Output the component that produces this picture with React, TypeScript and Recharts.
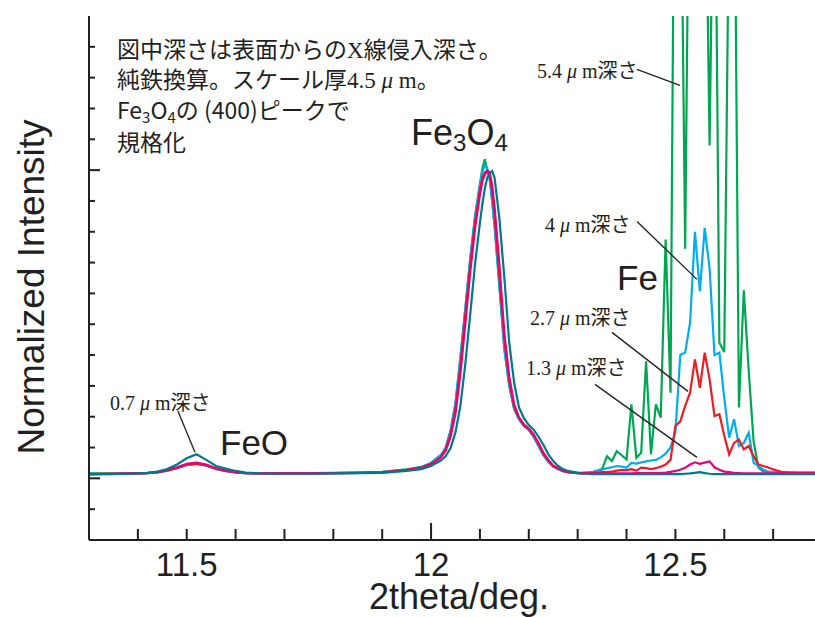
import React from 'react';
import { LineChart, Line, XAxis, YAxis, ReferenceLine } from 'recharts';

// 2theta (deg.) sample positions
const THETA = [
  11.30, 11.35, 11.40, 11.42, 11.44, 11.46, 11.48, 11.50, 11.52, 11.54, 11.56, 11.58, 11.60, 11.62, 11.65, 11.70, 11.75, 11.80, 11.85, 11.90, 11.95, 11.98,
  12.00, 12.02, 12.03, 12.04, 12.05, 12.06, 12.07, 12.08, 12.09, 12.10, 12.105, 12.11, 12.115, 12.12, 12.125, 12.13, 12.14, 12.15, 12.16, 12.17, 12.18, 12.19, 12.20, 12.21, 12.22, 12.23, 12.24, 12.25, 12.26, 12.27, 12.28, 12.30,
  12.31, 12.32, 12.33, 12.34, 12.35, 12.36, 12.37, 12.38, 12.39, 12.40, 12.41, 12.42, 12.43, 12.44, 12.45, 12.46, 12.47, 12.48, 12.49, 12.50, 12.51, 12.52, 12.53, 12.54, 12.55, 12.56, 12.57, 12.58, 12.59, 12.60, 12.61, 12.62, 12.63, 12.64, 12.65, 12.66, 12.67, 12.68, 12.69, 12.70,
  12.72, 12.75, 12.80,
];

// 0.7 um depth (teal)
const D07 = [
  0.013, 0.014, 0.016, 0.018, 0.022, 0.03, 0.045, 0.065, 0.078, 0.06, 0.04, 0.032, 0.024, 0.019, 0.016, 0.015, 0.015, 0.016, 0.017, 0.018, 0.024, 0.03,
  0.04, 0.058, 0.072, 0.098, 0.15, 0.235, 0.37, 0.53, 0.695, 0.83, 0.89, 0.94, 0.975, 0.99, 0.997, 0.975, 0.84, 0.65, 0.44, 0.31, 0.23, 0.195, 0.173, 0.158, 0.135, 0.108, 0.078, 0.056, 0.04, 0.03, 0.024, 0.018,
  0.015, 0.015, 0.014, 0.014, 0.014, 0.014, 0.014, 0.014, 0.014, 0.014, 0.014, 0.014, 0.014, 0.014, 0.014, 0.014, 0.014, 0.014, 0.014, 0.014, 0.014, 0.015, 0.016, 0.018, 0.02, 0.017, 0.015, 0.014, 0.014, 0.014, 0.014, 0.014, 0.014, 0.014, 0.014, 0.014, 0.014, 0.014, 0.014, 0.014,
  0.014, 0.014, 0.014,
];

// 1.3 um depth (magenta)
const D13 = [
  0.014, 0.015, 0.016, 0.017, 0.02, 0.027, 0.036, 0.047, 0.051, 0.045, 0.033, 0.025, 0.02, 0.017, 0.016, 0.016, 0.016, 0.017, 0.018, 0.019, 0.027, 0.034,
  0.045, 0.068, 0.09, 0.135, 0.21, 0.34, 0.5, 0.667, 0.81, 0.92, 0.965, 0.985, 0.997, 0.993, 0.95, 0.88, 0.69, 0.47, 0.33, 0.24, 0.197, 0.175, 0.162, 0.143, 0.115, 0.083, 0.06, 0.041, 0.032, 0.025, 0.021, 0.017,
  0.016, 0.016, 0.016, 0.016, 0.016, 0.016, 0.016, 0.016, 0.016, 0.016, 0.016, 0.017, 0.017, 0.017, 0.017, 0.017, 0.018, 0.019, 0.021, 0.024, 0.028, 0.034, 0.045, 0.052, 0.047, 0.051, 0.055, 0.036, 0.028, 0.022, 0.02, 0.018, 0.017, 0.016, 0.016, 0.016, 0.016, 0.016, 0.016, 0.016,
  0.016, 0.016, 0.016,
];

// 2.7 um depth (red)
const D27 = [
  0.014, 0.015, 0.016, 0.017, 0.019, 0.025, 0.034, 0.044, 0.048, 0.042, 0.031, 0.024, 0.019, 0.017, 0.016, 0.016, 0.016, 0.017, 0.018, 0.02, 0.028, 0.035,
  0.047, 0.07, 0.095, 0.145, 0.225, 0.365, 0.53, 0.69, 0.83, 0.935, 0.975, 0.993, 0.998, 0.985, 0.93, 0.85, 0.65, 0.45, 0.315, 0.232, 0.195, 0.173, 0.16, 0.14, 0.11, 0.079, 0.057, 0.04, 0.031, 0.024, 0.02, 0.017,
  0.017, 0.017, 0.018, 0.019, 0.02, 0.02, 0.022, 0.025, 0.027, 0.027, 0.03, 0.025, 0.035, 0.033, 0.03, 0.033, 0.038, 0.045, 0.06, 0.17, 0.185, 0.235, 0.278, 0.386, 0.294, 0.408, 0.321, 0.202, 0.208, 0.138, 0.078, 0.115, 0.126, 0.094, 0.105, 0.072, 0.045, 0.04, 0.035, 0.029,
  0.02, 0.019, 0.019,
];

// 4 um depth (light blue)
const D40 = [
  0.015, 0.015, 0.016, 0.017, 0.019, 0.025, 0.033, 0.043, 0.047, 0.041, 0.03, 0.023, 0.019, 0.017, 0.016, 0.016, 0.016, 0.017, 0.018, 0.02, 0.028, 0.036,
  0.05, 0.075, 0.1, 0.155, 0.245, 0.39, 0.55, 0.71, 0.85, 0.95, 0.995, 1.015, 1.005, 0.975, 0.9, 0.82, 0.62, 0.42, 0.3, 0.225, 0.192, 0.17, 0.157, 0.135, 0.105, 0.075, 0.054, 0.038, 0.03, 0.023, 0.02, 0.017,
  0.018, 0.019, 0.02, 0.024, 0.028, 0.033, 0.036, 0.04, 0.038, 0.035, 0.05, 0.048, 0.052, 0.055, 0.058, 0.06, 0.068, 0.08, 0.1, 0.15, 0.4, 0.408, 0.505, 0.8, 0.607, 0.813, 0.68, 0.4, 0.408, 0.26, 0.132, 0.192, 0.105, 0.115, 0.148, 0.051, 0.04, 0.028, 0.022, 0.02,
  0.018, 0.017, 0.017,
];

// 5.4 um depth (green)
const D54 = [
  0.016, 0.016, 0.017, 0.018, 0.02, 0.026, 0.034, 0.044, 0.048, 0.042, 0.031, 0.024, 0.02, 0.018, 0.017, 0.017, 0.017, 0.018, 0.019, 0.021, 0.029, 0.037,
  0.05, 0.075, 0.1, 0.155, 0.245, 0.39, 0.55, 0.71, 0.85, 0.955, 1.005, 1.035, 1.0, 0.97, 0.9, 0.82, 0.62, 0.42, 0.3, 0.225, 0.192, 0.17, 0.157, 0.135, 0.105, 0.075, 0.054, 0.038, 0.03, 0.023, 0.02, 0.018,
  0.018, 0.019, 0.02, 0.025, 0.03, 0.072, 0.056, 0.088, 0.075, 0.061, 0.24, 0.067, 0.083, 0.38, 0.078, 0.24, 0.197, 0.775, 0.278, 2.6, 2.2, 0.745, 2.4, 2.8, 2.5, 2.2, 1.08, 2.3, 0.44, 0.41, 1.9, 2.2, 0.23, 0.61, 0.35, 0.12, 0.035, 0.022, 0.02, 0.019,
  0.018, 0.018, 0.018,
];

const X_TICKS = [11.4, 11.5, 11.6, 11.7, 11.8, 11.9, 12, 12.1, 12.2, 12.3, 12.4, 12.5, 12.6, 12.7];
const X_LABELS = ['11.5', '12', '12.5'];
const Y_TICKS = [-0.1, 0, 0.1, 0.2, 0.3, 0.4, 0.5, 0.6, 0.7, 0.8, 0.9, 1, 1.1, 1.2, 1.3, 1.4];

// leader lines (from label to curve), in data units [theta, intensity]
const LEADERS = [
  [[12.4213, 1.3265], [12.5093, 1.2747]],
  [[12.4213, 0.8336], [12.5441, 0.6455]],
  [[12.3702, 0.4736], [12.5257, 0.2822]],
  [[12.3354, 0.3049], [12.5441, 0.0681]],
  [[11.4821, 0.2173], [11.5169, 0.0843]],
];

const SERIES = [
  { key: 'd54', color: '#00a651' },
  { key: 'd40', color: '#00aeef' },
  { key: 'd27', color: '#ed1c24' },
  { key: 'd13', color: '#e6007e' },
  { key: 'd07', color: '#00788a' },
];

const rows = THETA.map((t, i) => ({ t, d07: D07[i], d13: D13[i], d27: D27[i], d40: D40[i], d54: D54[i] }));

const INK = '#231f20';
const SANS = '"Liberation Sans", Arial, sans-serif';
const SERIF = '"Liberation Serif", "Times New Roman", serif';
const JP = '"Noto Sans CJK JP", sans-serif';

const isMajor = (v: number) => Math.abs(v - Math.round(v)) < 1e-6;

function BottomTick(props: any) {
  const { x, y, payload } = props;
  const v = payload.value as number;
  const len = isMajor(v) ? 17 : 11;
  const label = X_LABELS.find((l) => Math.abs(parseFloat(l) - v) < 1e-6);
  return (
    <g>
      <line x1={x} x2={x} y1={y} y2={y - len} stroke={INK} strokeWidth={2} />
      {label && (
        <text x={x} y={y + 36} textAnchor="middle" fontSize={33} fontFamily={SANS} fill={INK}>
          {label}
        </text>
      )}
    </g>
  );
}

function TopTick(props: any) {
  const { x, y, payload } = props;
  const len = isMajor(payload.value) ? 17 : 11;
  return <line x1={x} x2={x} y1={y} y2={y + len} stroke={INK} strokeWidth={2} />;
}

function LeftTick(props: any) {
  const { x, y, payload } = props;
  const len = isMajor(payload.value) ? 11 : 6;
  return <line x1={x} x2={x + len} y1={y} y2={y} stroke={INK} strokeWidth={2} />;
}

function DepthLabel({ x, y, num }: { x: number; y: number; num: string }) {
  return (
    <text x={x} y={y} fontSize={20} fill={INK}>
      <tspan fontFamily={SERIF}>{num} </tspan>
      <tspan fontFamily={SERIF} fontStyle="italic">μ</tspan>
      <tspan fontFamily={SERIF}> m</tspan>
      <tspan fontFamily={JP}>深さ</tspan>
    </text>
  );
}

export default function App() {
  return (
    <div style={{ position: 'absolute', left: 0, top: 0, width: 815, height: 617, overflow: 'hidden', background: '#fff' }}>
      <LineChart width={830} height={617} data={rows} margin={{ top: 16, right: 8, bottom: 0, left: 0 }}>
        <XAxis
          xAxisId="b"
          dataKey="t"
          type="number"
          domain={[11.3, 12.8]}
          allowDataOverflow
          ticks={X_TICKS}
          interval={0}
          tickSize={0}
          tickMargin={0}
          tickLine={false}
          tick={(p: any) => <BottomTick {...p} />}
          axisLine={{ stroke: INK, strokeWidth: 2 }}
          height={77}
        />
        <XAxis
          xAxisId="t"
          orientation="top"
          dataKey="t"
          type="number"
          domain={[11.3, 12.8]}
          allowDataOverflow
          ticks={X_TICKS}
          interval={0}
          tickSize={0}
          tickMargin={0}
          tickLine={false}
          tick={(p: any) => <TopTick {...p} />}
          axisLine={{ stroke: INK, strokeWidth: 2 }}
          height={0}
        />
        <YAxis
          yAxisId="l"
          type="number"
          domain={[-0.2, 1.5]}
          allowDataOverflow
          ticks={Y_TICKS}
          interval={0}
          tickSize={0}
          tickMargin={0}
          tickLine={false}
          tick={(p: any) => <LeftTick {...p} />}
          axisLine={{ stroke: INK, strokeWidth: 2 }}
          width={89}
        />
        {SERIES.map((s) => (
          <Line
            key={s.key}
            xAxisId="b"
            yAxisId="l"
            type="linear"
            dataKey={s.key}
            stroke={s.color}
            strokeWidth={2.2}
            dot={false}
            activeDot={false}
            isAnimationActive={false}
          />
        ))}
        {LEADERS.map((seg, i) => (
          <ReferenceLine
            key={i}
            xAxisId="b"
            yAxisId="l"
            segment={[{ x: seg[0][0], y: seg[0][1] }, { x: seg[1][0], y: seg[1][1] }]}
            stroke={INK}
            strokeWidth={1.3}
            ifOverflow="visible"
          />
        ))}

        <text transform="translate(44,287) rotate(-90)" textAnchor="middle" fontSize={37} fontFamily={SANS} fill={INK}>
          Normalized Intensity
        </text>
        <text x={459} y={609} textAnchor="middle" fontSize={36} fontFamily={SANS} fill={INK}>
          2theta/deg.
        </text>

        <g fill={INK} fontSize={23} fontFamily={JP}>
          <text x={117} y={58}>
            図中深さは表面からの<tspan fontFamily={SERIF}>X</tspan>線侵入深さ。
          </text>
          <text x={117} y={88}>
            純鉄換算。スケール厚<tspan fontFamily={SERIF}>4.5 </tspan>
            <tspan fontFamily={SERIF} fontStyle="italic">μ</tspan>
            <tspan fontFamily={SERIF}> m</tspan>。
          </text>
          <text x={117} y={119}>
            Fe<tspan fontSize={15} dy={4}>3</tspan>
            <tspan dy={-4}>O</tspan>
            <tspan fontSize={15} dy={4}>4</tspan>
            <tspan dy={-4}>の (400)ピークで</tspan>
          </text>
          <text x={117} y={151}>規格化</text>
        </g>

        <text x={411} y={145} fontSize={36} fontFamily={SANS} fill={INK}>
          Fe<tspan fontSize={24} dy={6}>3</tspan>
          <tspan dy={-6}>O</tspan>
          <tspan fontSize={24} dy={6}>4</tspan>
        </text>
        <text x={220} y={455} fontSize={35} fontFamily={SANS} fill={INK}>FeO</text>
        <text x={617} y={290} fontSize={35} fontFamily={SANS} fill={INK}>Fe</text>

        <DepthLabel x={537} y={78} num="5.4" />
        <DepthLabel x={545} y={232} num="4" />
        <DepthLabel x={530} y={325} num="2.7" />
        <DepthLabel x={526} y={375} num="1.3" />
        <DepthLabel x={110} y={410} num="0.7" />
      </LineChart>
    </div>
  );
}
